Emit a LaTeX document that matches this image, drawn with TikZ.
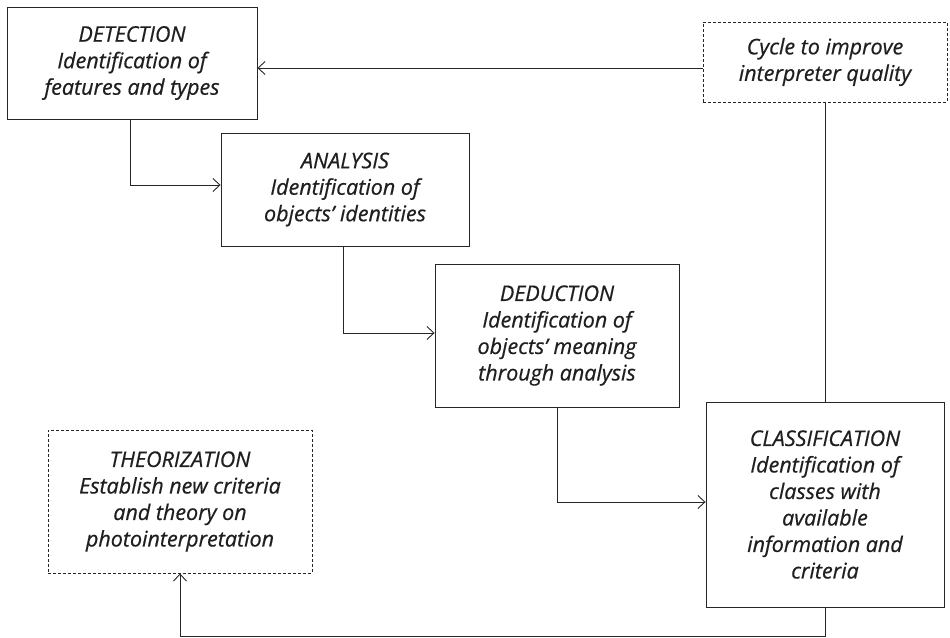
\documentclass[tikz,border=0pt]{standalone}
\usepackage{fontspec}
\setmainfont{Open Sans}[ItalicFeatures={FakeBold=0.6}]
\usetikzlibrary{arrows.meta,calc}
\begin{document}
\begin{tikzpicture}[x=1pt,y=-1pt,
  every node/.style={font=\itshape\fontsize{21.5}{26.5}\selectfont, text=black!88, align=center, inner sep=0pt},
  solidbox/.style={draw=black!85, line width=0.9pt, rectangle},
  dashbox/.style={draw=black!85, line width=0.9pt, rectangle, dash pattern=on 3pt off 2pt},
  conn/.style={draw=black!85, line width=0.9pt},
  arr/.style={conn, -{Straight Barb[length=7pt,width=13pt]}}]
\useasboundingbox (0,0) rectangle (950,637);
\node[solidbox, minimum width=250, minimum height=112] (det) at (132,63)
  {DETECTION\\Identification of\\features and types};
\node[solidbox, minimum width=248, minimum height=113] (ana) at (345,189.5)
  {ANALYSIS\\Identification of\\objects’ identities};
\node[solidbox, minimum width=244, minimum height=143] (ded) at (557,335.5)
  {DEDUCTION\\Identification of\\objects’ meaning\\through analysis};
\node[solidbox, minimum width=238, minimum height=205] (cls) at (825,504.5)
  {CLASSIFICATION\\Identification of\\classes with\\available\\information and\\criteria};
\node[dashbox, minimum width=244, minimum height=80] (cyc) at (825,62)
  {Cycle to improve\\interpreter quality};
\node[dashbox, minimum width=264, minimum height=143] (the) at (180,501.5)
  {THEORIZATION\\Establish new criteria\\and theory on\\photointerpretation};
\coordinate (a1) at (130,185);
\coordinate (a2) at (343,333);
\coordinate (a3) at (557,502);
\coordinate (b1) at (825,636);
\coordinate (b2) at (180,636);
\coordinate (c1) at (703,68);
\coordinate (c2) at (257,68);
\path[arr] (det.south -| a1) -- (a1) -- (ana.west |- a1);
\path[arr] (ana.south -| a2) -- (a2) -- (ded.west |- a2);
\path[arr] (ded.south -| a3) -- (a3) -- (cls.west |- a3);
\path[arr] (cls.south) -- (b1) -- (b2) -- (the.south);
\path[arr] (cyc.west |- c1) -- (det.east |- c2);
\path[conn] (cyc.south) -- (cls.north);
\end{tikzpicture}
\end{document}
